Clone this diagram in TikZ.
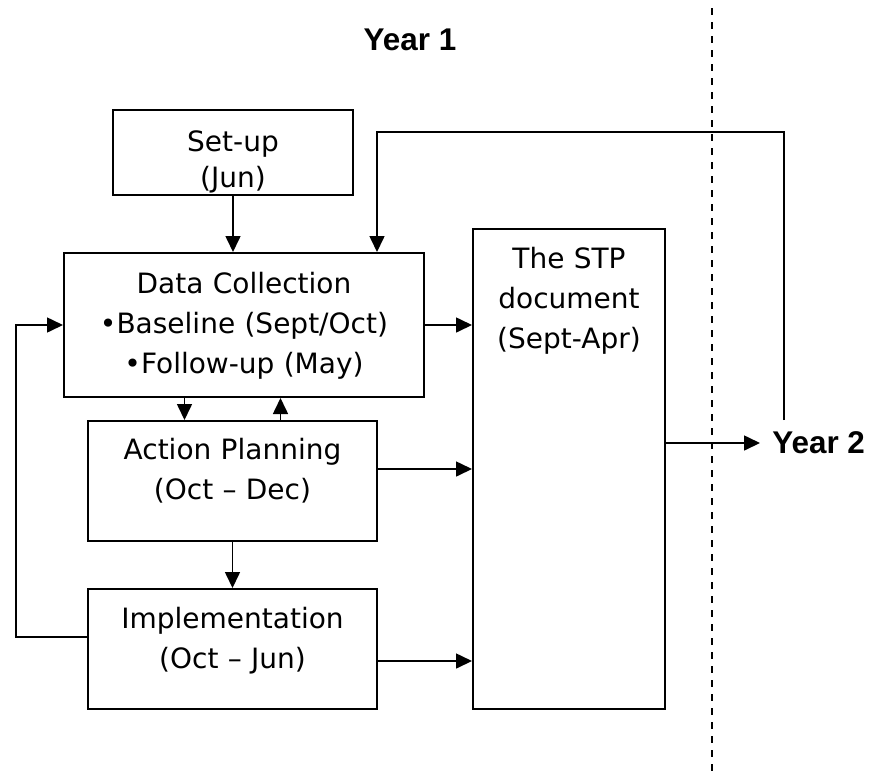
\documentclass[tikz,border=0pt]{standalone}
\usepackage{fontspec}
\setmainfont{DejaVu Sans}
\newfontfamily\yearfont{Liberation Sans}
\usetikzlibrary{arrows.meta,positioning}

\begin{document}
\begin{tikzpicture}[x=0.5pt, y=-0.5pt, >={Triangle[length=8pt,width=7.5pt]},
    stage/.style={rectangle, draw=black, line width=1pt, inner xsep=0pt, inner ysep=0pt, align=center, anchor=north west, font=\fontsize{14}{20}\selectfont},
    yearlabel/.style={font=\yearfont\bfseries\fontsize{15.7}{19}\selectfont},
    link/.style={->, line width=0.8pt},
    divider/.style={line width=1pt, dash pattern=on 3.5pt off 3.5pt}]

    \useasboundingbox (0,0) rectangle (871,777);

    \node [yearlabel, anchor=base] (year1) at (410,50) {Year 1};

    \node [stage, text width=120pt, text height=20.5pt, text depth=22pt, font=\fontsize{14}{18}\selectfont] (setup) at (112,109) {Set-up\\(Jun)};
    \node [stage, text width=180pt, text height=20pt, text depth=52pt] (dc) at (63,252) {Data Collection\\•Baseline (Sept/Oct)\\•Follow-up (May)};
    \node [stage, text width=144.5pt, text height=19pt, text depth=41pt] (ap) at (87,420) {Action Planning\\(Oct – Dec)};
    \node [stage, text width=144.5pt, text height=19.5pt, text depth=40.5pt] (impl) at (87,588) {Implementation\\(Oct – Jun)};
    \node [stage, text width=96pt, text height=19.5pt, text depth=220.5pt] (stp) at (472,228) {The STP\\document\\(Sept-Apr)};

    \node [yearlabel, anchor=west, inner xsep=6pt] (year2) at (760,443) {Year 2};

    \coordinate (apdown) at ([xshift=-24pt]ap.north);
    \coordinate (apup) at ([xshift=24pt]ap.north);
    \coordinate (apout) at ([yshift=6pt]ap.east);
    \coordinate (implout) at ([yshift=-6pt]impl.east);
    \coordinate (implback) at ([yshift=6pt]impl.west);
    \coordinate (dcin) at ([xshift=66.5pt]dc.north);
    \coordinate (backstart) at (784,420);
    \coordinate (backcorner) at (784,132);

    \draw [link] (setup) -- (setup |- dc.north);
    \draw [link] (apdown |- dc.south) -- (apdown);
    \draw [link] (apup) -- (apup |- dc.south);
    \draw [link] (ap) -- (impl);
    \draw [link] (dc.east) -- (dc.east -| stp.west);
    \draw [link] (apout) -- (apout -| stp.west);
    \draw [link] (implout) -- (implout -| stp.west);
    \draw [link] (implback) -- ++(-71,0) |- (dc.west);
    \draw [link] (stp.east |- year2.west) -- (year2.west);
    \draw [link] (backstart) -- (backcorner) -| (dcin);

    \draw [divider] (712,8) -- (712,776);
\end{tikzpicture}
\end{document}
